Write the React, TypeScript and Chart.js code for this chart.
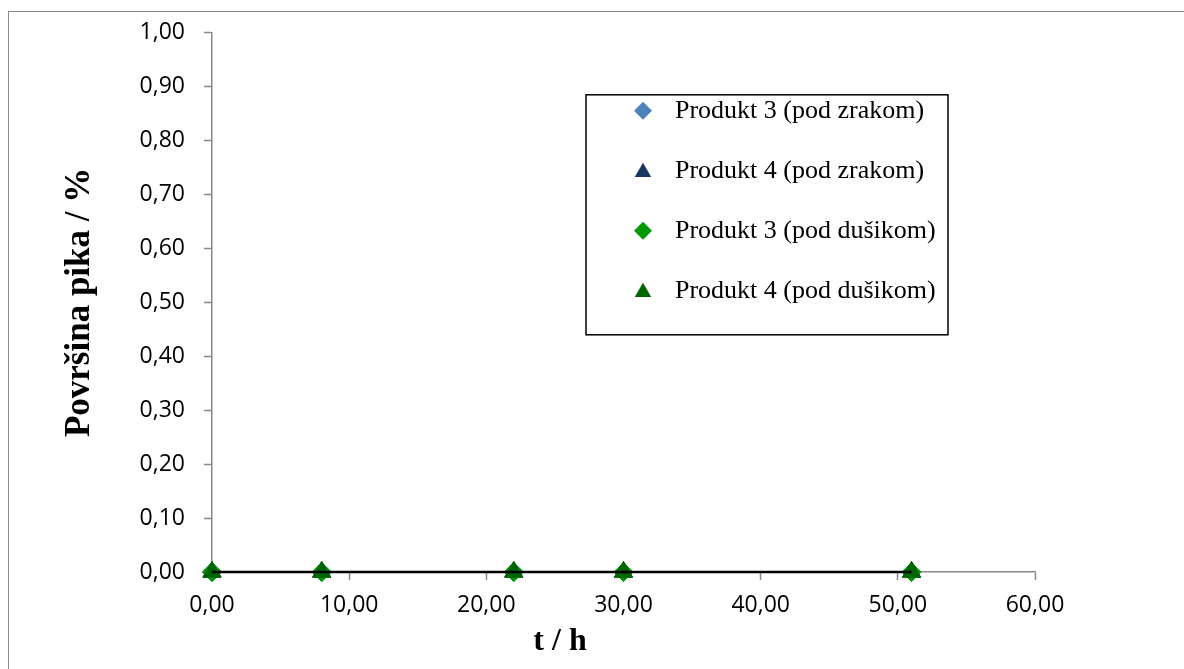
import React, { useEffect, useRef } from "react";
import { Chart, registerables } from "chart.js";

Chart.register(...registerables);

// ---- data ----
const timeH = [0, 8, 22, 30, 51];
const p3Zrak = [0, 0, 0, 0, 0];
const p4Zrak = [0, 0, 0, 0, 0];
const p3Dusik = [0, 0, 0, 0, 0];
const p4Dusik = [0, 0, 0, 0, 0];
const seriesLabels = [
  "Produkt 3 (pod zrakom)",
  "Produkt 4 (pod zrakom)",
  "Produkt 3 (pod dušikom)",
  "Produkt 4 (pod dušikom)",
];
const xTitle = "t / h";
const yTitle = "Površina pika / %";
const xMin = 0, xMax = 60, xStep = 10;
const yMin = 0, yMax = 1, yStep = 0.1;

const colors = ["#4F81BD", "#17375E", "#009A00", "#006400"];
const shapes = ["rectRot", "triangle", "rectRot", "triangle"];

const fmt = (v: number) => Number(v).toFixed(2).replace(".", ",");

const toPts = (ys: number[]) => timeH.map((x, i) => ({ x, y: ys[i] }));

const drawMarker = (ctx: CanvasRenderingContext2D, shape: string, x: number, y: number, r: number, color: string) => {
  ctx.save();
  ctx.fillStyle = color;
  ctx.strokeStyle = color;
  ctx.beginPath();
  if (shape === "rectRot") {
    ctx.moveTo(x - r, y);
    ctx.lineTo(x, y - r);
    ctx.lineTo(x + r, y);
    ctx.lineTo(x, y + r);
  } else {
    const h = r * 1.5;
    const w = r * Math.sqrt(3);
    const top = y - h / 2 - 1;
    ctx.moveTo(x, top);
    ctx.lineTo(x + w / 2, top + h);
    ctx.lineTo(x - w / 2, top + h);
  }
  ctx.closePath();
  ctx.fill();
  ctx.restore();
};

const overlayPlugin = {
  id: "overlay",
  afterDraw(chart: any) {
    const { ctx, chartArea } = chart;
    const L = chartArea.left;
    const T = chartArea.top;
    ctx.save();
    // x-axis title
    ctx.font = "bold 32px 'Liberation Serif', 'Times New Roman', serif";
    ctx.fillStyle = "#000";
    ctx.textAlign = "center";
    ctx.textBaseline = "middle";
    ctx.fillText(xTitle, L + 348, chartArea.bottom + 70);

    // legend box
    const bx = L + 374;
    const by = T + 62;
    const bw = 362;
    const bh = 240;
    ctx.lineWidth = 1.5;
    ctx.strokeStyle = "#000";
    ctx.fillStyle = "#fff";
    ctx.fillRect(bx, by, bw, bh);
    ctx.strokeRect(bx, by, bw, bh);
    ctx.font = "26px 'Liberation Serif', 'Times New Roman', serif";
    ctx.textAlign = "left";
    ctx.textBaseline = "middle";
    seriesLabels.forEach((lab, i) => {
      const cy = by + 16 + i * 60;
      drawMarker(ctx, shapes[i], bx + 57, cy, shapes[i] === "rectRot" ? 9 : 9.5, colors[i]);
      ctx.fillStyle = "#000";
      ctx.fillText(lab, bx + 89, cy);
    });
    ctx.restore();
  },
};

export default function App() {
  const ref = useRef<HTMLCanvasElement | null>(null);
  useEffect(() => {
    if (!ref.current) return;
    const series = [p3Zrak, p4Zrak, p3Dusik, p4Dusik];
    const datasets: any[] = series.map((ys, i) => ({
      label: seriesLabels[i],
      data: toPts(ys),
      showLine: false,
      clip: false,
      pointStyle: shapes[i],
      pointRadius: shapes[i] === "rectRot" ? 9.5 : 10.5,
      pointBackgroundColor: colors[i],
      pointBorderColor: i === 0 ? "#3A6CB0" : colors[i],
      pointBorderWidth: 1,
      order: 4 - i + 1,
    }));
    datasets.push({
      label: "line",
      data: toPts(p4Dusik),
      showLine: true,
      clip: false,
      borderColor: "#000",
      borderWidth: 2.5,
      pointRadius: 0,
      order: 0,
    });
    const chart = new Chart(ref.current, {
      type: "scatter",
      data: { datasets },
      options: {
        animation: false,
        responsive: false,
        devicePixelRatio: 1,
        layout: { padding: { top: 32, right: 149, bottom: 0, left: 0 } },
        plugins: { legend: { display: false }, tooltip: { enabled: false } },
        scales: {
          x: {
            type: "linear",
            min: xMin,
            max: xMax,
            ticks: {
              stepSize: xStep,
              callback: (v: any) => fmt(v),
              font: { family: "'Open Sans', sans-serif", size: 23 },
              color: "#000",
              padding: 12,
              maxRotation: 0,
            },
            grid: { drawOnChartArea: false, drawTicks: true, tickLength: 8, tickColor: "#888", tickWidth: 1.5 },
            border: { color: "#888", width: 1.5 },
            afterFit: (s: any) => { s.height = 97; },
          },
          y: {
            type: "linear",
            min: yMin,
            max: yMax,
            ticks: {
              stepSize: yStep,
              callback: (v: any) => fmt(v),
              font: { family: "'Open Sans', sans-serif", size: 23 },
              color: "#000",
              padding: 19,
            },
            grid: { drawOnChartArea: false, drawTicks: true, tickLength: 8, tickColor: "#888", tickWidth: 1.5 },
            border: { color: "#888", width: 1.5 },
            title: {
              display: true,
              text: yTitle,
              color: "#000",
              font: { family: "'Liberation Serif', 'Times New Roman', serif", size: 35, weight: "bold" },
              padding: { top: 59, bottom: 0 },
            },
            afterFit: (s: any) => { s.width = 212; },
          },
        },
      },
      plugins: [overlayPlugin],
    });
    return () => chart.destroy();
  }, []);

  return (
    <div style={{ position: "fixed", inset: 0, overflow: "hidden", background: "#fff" }}>
      <div
        style={{
          position: "absolute",
          left: 8,
          top: 11,
          width: 1400,
          height: 900,
          border: "1.5px solid #8a8a8a",
        }}
      />
      <canvas
        ref={ref}
        width={1184}
        height={669}
        style={{ position: "absolute", left: 0, top: 0, width: 1184, height: 669 }}
      />
    </div>
  );
}
